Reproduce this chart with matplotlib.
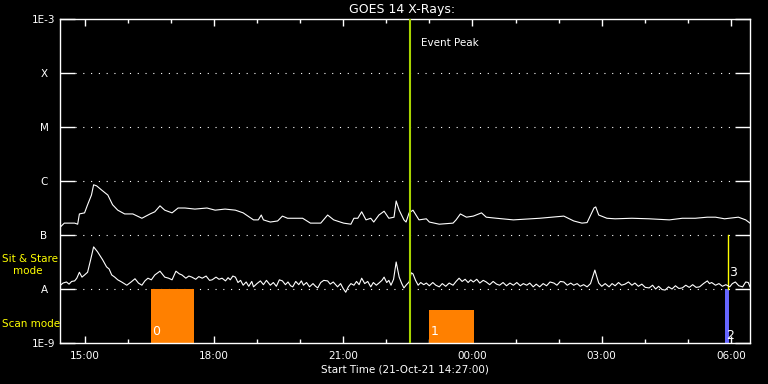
import matplotlib.pyplot as plt
from matplotlib.ticker import NullLocator

# time in hours from 00:00 on 21-Oct-21 (values above 24 fall on 22-Oct)
# flux given as log10(W/m^2)
long_t = [14.44, 14.53, 14.77, 14.84, 14.88, 15.00, 15.07, 15.16, 15.21, 15.28,
          15.40, 15.54, 15.65, 15.77, 15.93, 16.12, 16.33, 16.52, 16.63, 16.75,
          16.86, 17.03, 17.17, 17.33, 17.56, 17.84, 18.03, 18.26, 18.50, 18.68,
          18.92, 19.03, 19.10, 19.15, 19.31, 19.48, 19.59, 19.71, 19.94, 20.06,
          20.24, 20.48, 20.64, 20.78, 21.01, 21.18, 21.25, 21.34, 21.43, 21.53,
          21.64, 21.71, 21.83, 21.95, 22.06, 22.18, 22.23, 22.30, 22.41, 22.46,
          22.53, 22.62, 22.76, 22.93, 23.00, 23.23, 23.55, 23.62, 23.72, 23.86,
          24.02, 24.21, 24.32, 24.56, 24.95, 25.56, 25.84, 26.12, 26.35, 26.54,
          26.66, 26.82, 26.86, 26.93, 27.12, 27.31, 27.70, 28.10, 28.57, 28.87,
          29.17, 29.45, 29.64, 29.85, 30.17, 30.34, 30.44]
long_log = [-6.85, -6.78, -6.78, -6.80, -6.61, -6.59, -6.44, -6.26, -6.07, -6.09,
            -6.17, -6.26, -6.44, -6.54, -6.61, -6.61, -6.69, -6.61, -6.57, -6.46,
            -6.54, -6.59, -6.50, -6.50, -6.52, -6.50, -6.54, -6.52, -6.54, -6.59,
            -6.72, -6.72, -6.63, -6.72, -6.76, -6.74, -6.65, -6.69, -6.69, -6.69,
            -6.78, -6.78, -6.63, -6.72, -6.78, -6.80, -6.69, -6.69, -6.57, -6.72,
            -6.69, -6.76, -6.63, -6.56, -6.69, -6.67, -6.37, -6.54, -6.72, -6.76,
            -6.59, -6.54, -6.72, -6.70, -6.76, -6.80, -6.78, -6.72, -6.61, -6.67,
            -6.65, -6.59, -6.67, -6.69, -6.72, -6.69, -6.67, -6.65, -6.74, -6.78,
            -6.77, -6.50, -6.48, -6.63, -6.69, -6.70, -6.69, -6.70, -6.72, -6.69,
            -6.69, -6.67, -6.67, -6.70, -6.67, -6.72, -6.78]

short_t = [14.44, 14.50, 14.58, 14.64, 14.70, 14.77, 14.82, 14.88, 14.94, 15.00,
           15.07, 15.14, 15.21, 15.30, 15.42, 15.51, 15.57, 15.63, 15.70, 15.77,
           15.86, 15.98, 16.08, 16.17, 16.25, 16.33, 16.40, 16.47, 16.55, 16.63,
           16.75, 16.86, 16.95, 17.03, 17.12, 17.20, 17.26, 17.35, 17.42, 17.49,
           17.58, 17.65, 17.73, 17.82, 17.90, 17.96, 18.05, 18.12, 18.19, 18.27,
           18.33, 18.38, 18.44, 18.50, 18.56, 18.62, 18.68, 18.75, 18.81, 18.88,
           18.92, 19.00, 19.08, 19.15, 19.22, 19.31, 19.38, 19.45, 19.52, 19.59,
           19.66, 19.72, 19.78, 19.83, 19.90, 19.97, 20.03, 20.08, 20.15, 20.22,
           20.30, 20.36, 20.41, 20.48, 20.55, 20.64, 20.70, 20.77, 20.87, 20.94,
           21.00, 21.06, 21.12, 21.18, 21.25, 21.31, 21.37, 21.43, 21.50, 21.57,
           21.64, 21.70, 21.77, 21.83, 21.90, 21.95, 22.01, 22.06, 22.11, 22.17,
           22.23, 22.30, 22.36, 22.41, 22.47, 22.53, 22.58, 22.62, 22.68, 22.74,
           22.80, 22.87, 22.93, 23.00, 23.08, 23.15, 23.23, 23.30, 23.38, 23.46,
           23.55, 23.62, 23.69, 23.76, 23.83, 23.90, 23.96, 24.02, 24.10, 24.17,
           24.25, 24.32, 24.40, 24.48, 24.56, 24.63, 24.71, 24.79, 24.87, 24.95,
           25.03, 25.11, 25.18, 25.26, 25.33, 25.41, 25.48, 25.56, 25.64, 25.72,
           25.80, 25.89, 25.96, 26.04, 26.12, 26.20, 26.28, 26.35, 26.43, 26.50,
           26.58, 26.66, 26.74, 26.82, 26.84, 26.88, 26.93, 27.00, 27.08, 27.17,
           27.24, 27.31, 27.39, 27.46, 27.54, 27.62, 27.70, 27.77, 27.85, 27.93,
           28.01, 28.10, 28.18, 28.25, 28.32, 28.40, 28.47, 28.55, 28.63, 28.71,
           28.79, 28.87, 28.95, 29.03, 29.11, 29.19, 29.27, 29.36, 29.45, 29.50,
           29.55, 29.64, 29.72, 29.80, 29.88, 29.97, 30.03, 30.10, 30.18, 30.27,
           30.34, 30.40, 30.44]
short_log = [-7.93, -7.89, -7.87, -7.91, -7.86, -7.85, -7.80, -7.69, -7.78, -7.74,
             -7.69, -7.46, -7.22, -7.31, -7.46, -7.59, -7.63, -7.74, -7.78, -7.83,
             -7.87, -7.93, -7.87, -7.81, -7.89, -7.93, -7.85, -7.80, -7.83, -7.74,
             -7.67, -7.78, -7.80, -7.83, -7.67, -7.72, -7.74, -7.80, -7.76, -7.78,
             -7.82, -7.77, -7.80, -7.76, -7.84, -7.83, -7.78, -7.82, -7.80, -7.85,
             -7.79, -7.83, -7.76, -7.78, -7.88, -7.84, -7.93, -7.87, -7.95, -7.86,
             -7.96, -7.90, -7.85, -7.92, -7.84, -7.93, -7.88, -7.95, -7.83, -7.85,
             -7.92, -7.87, -7.94, -7.96, -7.86, -7.92, -7.85, -7.93, -7.88, -7.96,
             -7.90, -7.95, -7.98, -7.88, -7.84, -7.85, -7.91, -7.87, -7.96, -7.90,
             -7.99, -8.06, -7.96, -7.90, -7.93, -7.86, -7.92, -7.80, -7.90, -7.86,
             -7.96, -7.88, -7.93, -7.89, -7.84, -7.78, -7.88, -7.84, -7.93, -7.82,
             -7.50, -7.78, -7.90, -7.98, -7.92, -7.87, -7.70, -7.72, -7.84, -7.93,
             -7.88, -7.92, -7.89, -7.94, -7.88, -7.93, -7.96, -7.90, -7.95, -7.89,
             -7.93, -7.86, -7.80, -7.86, -7.82, -7.88, -7.83, -7.87, -7.82, -7.89,
             -7.84, -7.87, -7.92, -7.86, -7.91, -7.93, -7.88, -7.94, -7.89, -7.93,
             -7.88, -7.94, -7.90, -7.93, -7.89, -7.96, -7.91, -7.96, -7.90, -7.94,
             -7.87, -7.89, -7.93, -7.86, -7.87, -7.93, -7.89, -7.93, -7.90, -7.95,
             -7.92, -7.96, -7.90, -7.70, -7.65, -7.76, -7.89, -7.95, -7.90, -7.96,
             -7.90, -7.94, -7.88, -7.93, -7.91, -7.87, -7.93, -7.89, -7.95, -7.91,
             -7.97, -7.98, -7.93, -8.00, -7.95, -8.01, -8.02, -7.96, -8.00, -7.94,
             -7.99, -7.98, -7.93, -7.97, -7.92, -7.97, -7.96, -7.90, -7.85, -7.90,
             -7.88, -7.93, -7.90, -7.95, -7.92, -7.96, -7.90, -7.87, -7.94, -7.96,
             -7.87, -7.88, -7.96]

class_levels = [1e-9, 1e-8, 1e-7, 1e-6, 1e-5, 1e-4, 1e-3]
class_labels = ['1E-9', 'A', 'B', 'C', 'M', 'X', '1E-3']

hour_ticks = [15, 18, 21, 24, 27, 30]
hour_labels = ['15:00', '18:00', '21:00', '00:00', '03:00', '06:00']

event_peak = 22.55

# scan mode intervals (orange) and sit & stare (blue / yellow)
scan_start = [16.53, 22.99]
scan_end = [17.55, 24.03]
scan_top = [1e-8, 4.1e-9]
scan_ids = ['0', '1']
stare_start, stare_end, stare_id = 29.86, 29.95, '2'
mark_time, mark_id = 29.93, '3'

fs = 7.5
fig = plt.figure(figsize=(7.68, 3.84), dpi=100, facecolor='black')
ax = fig.add_axes([60/768, 41/384, 690/768, 324/384], facecolor='black')

ax.set_yscale('log')
ax.set_ylim(1e-9, 1e-3)
ax.set_xlim(14.43, 30.44)

# dotted class lines
for lev in class_levels[1:-1]:
    ax.plot([0.022, 0.978], [lev, lev], transform=ax.get_yaxis_transform(),
            color='white', lw=0.8, ls=(0, (1, 6)), zorder=1)

for s, e, top, lab in zip(scan_start, scan_end, scan_top, scan_ids):
    ax.bar(s, top - 1e-9, bottom=1e-9, width=e - s, align='edge',
           color='#ff8000', zorder=2)
    ax.text(s + 0.03, 10**-8.78, lab, color='white', fontsize=9, va='center')

ax.bar(stare_start, 1e-8 - 1e-9, bottom=1e-9, width=stare_end - stare_start,
       align='edge', color='#6666ff', zorder=2)
ax.text(stare_start + 0.02, 10**-8.87, stare_id, color='white', fontsize=9, va='center')
ax.plot([mark_time, mark_time], [1e-8, 1e-7], color='#ffff00', lw=1, zorder=3)
ax.text(mark_time + 0.03, 10**-7.70, mark_id, color='white', fontsize=9, va='center')

ax.plot(long_t, [10**v for v in long_log], color='white', lw=0.8, zorder=4)
ax.plot(short_t, [10**v for v in short_log], color='white', lw=0.8, zorder=4)

ax.axvline(event_peak, color='#a8d400', lw=1.5, zorder=5)
ax.text(event_peak + 0.25, 10**-3.44, 'Event Peak', color='white', fontsize=fs, va='center')

ax.set_yticks(class_levels)
ax.set_yticklabels(class_labels)
ax.yaxis.set_minor_locator(NullLocator())
ax.tick_params(axis='y', which='major', direction='in', length=10.8, width=1,
               colors='white', left=True, right=True, pad=11.5, labelsize=fs)
for lab in ax.get_yticklabels():
    lab.set_ha('center')

ax.set_xticks(hour_ticks)
ax.set_xticklabels(hour_labels)
ax.set_xticks(range(15, 31), minor=True)
ax.tick_params(axis='x', which='major', direction='in', length=5, width=1,
               colors='white', top=True, bottom=True, pad=6, labelsize=fs)
ax.tick_params(axis='x', which='minor', direction='in', length=3, width=1,
               colors='white', top=True, bottom=True)

for sp in ax.spines.values():
    sp.set_color('white')
    sp.set_linewidth(1)

fig.text(402/768, 1 - 10/384, 'GOES 14 X-Rays:', color='white', fontsize=9,
         ha='center', va='center')
fig.text(405/768, 1 - 370/384, 'Start Time (21-Oct-21 14:27:00)', color='white',
         fontsize=fs, ha='center', va='center')
fig.text(2/768, 1 - 259/384, 'Sit & Stare', color='#ffff00', fontsize=fs, va='center')
fig.text(13/768, 1 - 271/384, 'mode', color='#ffff00', fontsize=fs, va='center')
fig.text(2/768, 1 - 324/384, 'Scan mode', color='#ffff00', fontsize=fs, va='center')

fig.savefig('out.png', dpi=100, facecolor='black')
